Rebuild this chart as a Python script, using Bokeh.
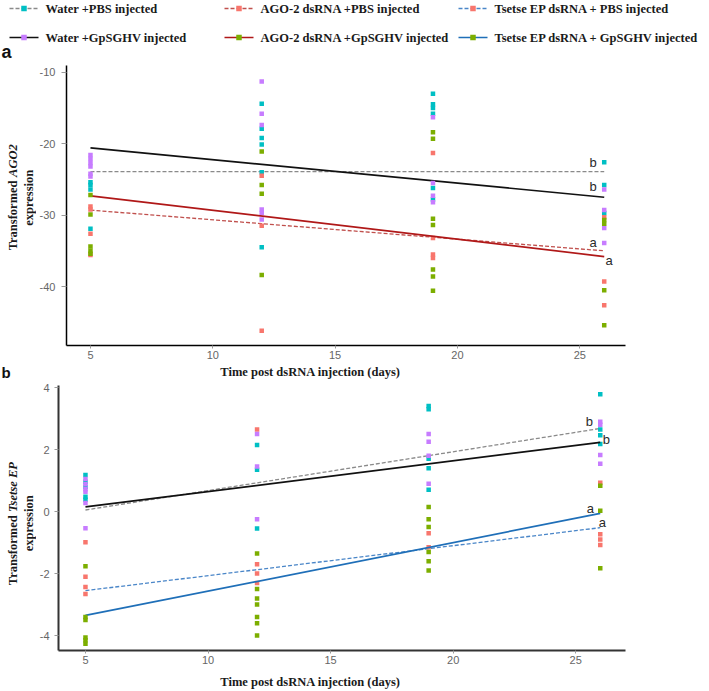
import math
from bokeh.plotting import figure
from bokeh.models import Range1d, Label, FixedTicker
from bokeh.layouts import row
from bokeh.embed import file_html
from bokeh.resources import INLINE
from bokeh.core.properties import value

# ---------------- data ----------------
x_ticks = [5, 10, 15, 20, 25]
x_tick_labels = ["5", "10", "15", "20", "25"]
line_days = [5, 26]

# Panel a : transformed AGO2 expression (points by day)
a_water_pbs = {5: [-25.4, -25.8, -26.4, -31.9],
               12: [-14.4, -17.9, -19.2, -20.1, -24.0, -34.5],
               19: [-13.0, -14.5, -15.0, -15.8, -26.2, -27.8],
               26: [-22.6, -25.8, -29.7]}
a_water_gp = {5: [-21.6, -22.1, -22.7, -23.2, -24.2, -24.6],
              12: [-11.3, -15.8, -17.4, -29.2, -29.7, -30.6],
              19: [-16.3, -25.5, -27.3, -28.2],
              26: [-26.4, -29.3, -31.8, -33.9]}
a_ago_pbs = {5: [-28.8, -29.2, -32.6, -35.6],
             12: [-24.5, -31.5, -46.2],
             19: [-21.3, -33.2, -35.5, -36.0],
             26: [-30.3, -39.3, -42.6]}
a_ago_gp = {5: [-27.2, -29.9, -34.4, -35.0, -35.4],
            12: [-21.1, -25.8, -27.0, -38.4],
            19: [-18.4, -19.3, -30.5, -31.4, -37.6, -38.6, -40.6],
            26: [-30.7, -31.2, -40.5, -45.4]}
a_fit_water_pbs = [-23.9, -23.9]
a_fit_water_gp = [-20.6, -27.5]
a_fit_ago_pbs = [-29.3, -35.0]
a_fit_ago_gp = [-27.3, -35.8]
a_y_ticks = [-40, -30, -20, -10]
a_y_tick_labels = ["-40", "-30", "-20", "-10"]

# Panel b : transformed Tsetse EP expression
b_water_pbs = {5: [1.18, 0.96, 0.80, 0.48, 0.38],
               12: [2.15, 1.35, -0.55],
               19: [3.40, 3.30, 1.70, 1.40, 0.70],
               26: [3.78, 2.65, 2.46, 2.18]}
b_water_gp = {5: [1.05, 0.88, 0.72, 0.64, 0.28, -0.54],
              12: [2.50, 1.45, -0.25],
              19: [2.50, 2.25, 1.80, 0.90],
              26: [2.90, 2.80, 1.82, 1.54]}
b_tse_pbs = {5: [-0.99, -2.10, -2.43, -2.66],
             12: [2.65, -1.70, -2.00, -2.30],
             19: [-0.70, -1.15],
             26: [0.93, -0.73, -0.90, -1.08]}
b_tse_gp = {5: [-1.76, -3.40, -3.50, -4.06, -4.15, -4.26],
            12: [-1.35, -2.50, -2.80, -3.00, -3.40, -3.60, -4.00],
            19: [0.15, -0.25, -0.50, -1.30, -1.60, -1.90],
            26: [0.83, 0.03, -1.83]}
b_fit_water_pbs = [0.05, 2.68]
b_fit_water_gp = [0.15, 2.23]
b_fit_tse_pbs = [-2.55, -0.52]
b_fit_tse_gp = [-3.35, -0.06]
b_y_ticks = [-4, -2, 0, 2, 4]
b_y_tick_labels = ["-4", "-2", "0", "2", "4"]

legend_labels = ["Water +PBS injected", "AGO-2 dsRNA +PBS injected", "Tsetse EP dsRNA + PBS injected",
                 "Water +GpSGHV injected", "AGO-2 dsRNA +GpSGHV injected", "Tsetse EP dsRNA + GpSGHV injected"]
x_title = "Time post dsRNA injection (days)"

# ---------------- styles ----------------
CYAN, PURPLE, SALMON, GREEN = "#00BFC4", "#C77CFF", "#F8766D", "#7CAE00"
GRAY_L, BLACK_L, RED_D, RED_S, BLUE_D, BLUE_S = "#8a8a8a", "#111111", "#c0504d", "#b01818", "#4a86c8", "#1f6fb8"
SERIF = "Liberation Serif"
SANS = "Liberation Sans"
TICKF = "Liberation Sans"
TXT = "#1a1a1a"
W = 709
YLAB_W = 36
PANEL_W = W - YLAB_W
FRAME_RIGHT = 625          # page x of frame right edge


def flat(d):
    xs, ys = [], []
    for day, vals in d.items():
        xs += [day] * len(vals)
        ys += vals
    return xs, ys


def blank(width, height, yr=None, b_top=0, b_bottom=0):
    """Figure without axes whose frame is used as a pixel canvas."""
    p = figure(width=width, height=height, x_range=Range1d(0, width),
               y_range=yr if yr is not None else Range1d(height, 0),
               min_border=0, min_border_top=b_top, min_border_bottom=b_bottom,
               toolbar_location=None, output_backend="svg",
               x_axis_location=None, y_axis_location=None)
    p.grid.visible = False
    p.outline_line_color = None
    p.title.visible = False
    return p


# ---------------- header: legend + panel letter a ----------------
HEAD_H = 64
head = blank(W, HEAD_H)
leg_cols = [9, 224, 458]
leg_rows = [8, 37]
leg_line_colors = [GRAY_L, RED_D, BLUE_D, BLACK_L, RED_S, BLUE_S]
leg_marker_colors = [CYAN, SALMON, SALMON, PURPLE, GREEN, GREEN]
leg_dash = ["4 2", "4 2", "4 2", "solid", "solid", "solid"]
for i, lab in enumerate(legend_labels):
    cx = leg_cols[i % 3]
    cy = leg_rows[i // 3]
    head.segment(x0=[cx], y0=[cy], x1=[cx + 29], y1=[cy], line_color=leg_line_colors[i],
                 line_width=1.7 if i >= 3 else 1.3, line_dash=leg_dash[i])
    head.scatter(x=[cx + 14.5], y=[cy], marker="square", size=5.5,
                 fill_color=leg_marker_colors[i], line_color=None)
    head.text(x=[cx + 36], y=[cy], text=[lab], text_font=value(SERIF), text_font_style="bold",
              text_font_size="12.5px", text_baseline="middle", text_align="left", text_color=TXT)
head.text(x=[1], y=[51], text=["a"], text_font=value(SANS), text_font_style="bold",
          text_font_size="18px", text_baseline="middle", text_align="left", text_color="#111111")


# ---------------- panel builder ----------------
def make_panel(height, xr, yr, b_left, b_top, b_bottom, yticks, ytlabels, axis_color, axis_w,
               ytick_out, ystandoff):
    p = figure(width=PANEL_W, height=height, x_range=Range1d(*xr), y_range=Range1d(*yr),
               toolbar_location=None, output_backend="svg",
               min_border_left=b_left, min_border_right=W - FRAME_RIGHT,
               min_border_top=b_top, min_border_bottom=b_bottom)
    p.title.visible = False
    p.grid.visible = False
    p.outline_line_color = None
    p.xaxis.ticker = FixedTicker(ticks=x_ticks)
    p.xaxis.major_label_overrides = dict(zip(x_ticks, x_tick_labels))
    p.yaxis.ticker = FixedTicker(ticks=yticks)
    p.yaxis.major_label_overrides = dict(zip(yticks, ytlabels))
    for ax in (p.xaxis, p.yaxis):
        ax.axis_line_color = axis_color
        ax.axis_line_width = axis_w
        ax.major_tick_line_color = "#9a9a9a"
        ax.major_tick_in = 0
        ax.minor_tick_line_color = None
        ax.major_label_text_font = TICKF
        ax.major_label_text_font_size = "11px"
        ax.major_label_text_color = "#666666"
    p.yaxis.major_tick_out = ytick_out
    p.yaxis.major_label_standoff = ystandoff
    p.xaxis.major_tick_out = 3
    p.xaxis.major_label_standoff = 2
    return p


def add_group(p, pts, fit, line_color, dash, lw, pt_color):
    xs, ys = flat(pts)
    p.line(x=line_days, y=fit, line_color=line_color, line_dash=dash, line_width=lw)
    p.scatter(x=xs, y=ys, marker="square", size=4.5, fill_color=pt_color, line_color=None)


def letter(p, x, y, txt, dx, dy):
    p.add_layout(Label(x=x, y=y, text=txt, x_offset=dx, y_offset=dy, text_font=SANS,
                       text_font_size="13px", text_color="#2a2a2a", text_align="center",
                       text_baseline="middle"))


def ylabel_fig(height, yr, b_top, b_bottom, y_plain, y_ital, y_expr, gene):
    q = blank(YLAB_W, height, yr=Range1d(*yr), b_top=b_top, b_bottom=b_bottom)
    common = dict(angle=math.pi / 2, text_font=value(SERIF), text_font_size="12.5px",
                  text_baseline="middle", text_color=TXT)
    q.text(x=[12.5], y=[y_plain], text=["Transformed"], text_align="right",
           text_font_style="bold", **common)
    q.text(x=[12.5], y=[y_ital], text=[gene], text_align="left",
           text_font_style="bold italic", **common)
    q.text(x=[28.5], y=[y_expr], text=["expression"], text_align="center",
           text_font_style="bold", **common)
    return q


# ---------------- panel a ----------------
ROWA_H = 299
AX = (4.02, 26.87)
AY = (-48.25, -9.06)
pa = make_panel(ROWA_H, AX, AY, 63 - YLAB_W, 1, 18, a_y_ticks, a_y_tick_labels, "#000000", 1.5, 5, 6)
add_group(pa, a_water_pbs, a_fit_water_pbs, GRAY_L, "4 2", 1.3, CYAN)
add_group(pa, a_ago_pbs, a_fit_ago_pbs, RED_D, "4 2", 1.3, SALMON)
add_group(pa, a_water_gp, a_fit_water_gp, BLACK_L, "solid", 1.7, PURPLE)
add_group(pa, a_ago_gp, a_fit_ago_gp, RED_S, "solid", 1.7, GREEN)
letter(pa, 26, a_fit_water_pbs[1], "b", -11, 9)
letter(pa, 26, a_fit_water_gp[1], "b", -11, 11)
letter(pa, 26, a_fit_ago_pbs[1], "a", -11, 8)
letter(pa, 26, a_fit_ago_gp[1], "a", 5, -4)
ya = ylabel_fig(ROWA_H, AY, 1, 18, -25.15, -24.66, -27.57, "AGO2")

# strip between panels: x title of panel a + panel letter b
STRIP_A_H = 17
strip_a = blank(W, STRIP_A_H)
strip_a.text(x=[310], y=[8], text=[x_title], text_font=value(SERIF), text_font_style="bold",
             text_font_size="12.5px", text_baseline="middle", text_align="center", text_color=TXT)
strip_a.text(x=[1], y=[8.5], text=["b"], text_font=value(SANS), text_font_style="bold",
             text_font_size="15px", text_baseline="middle", text_align="left", text_color="#111111")

# ---------------- panel b ----------------
ROWB_H = 288
BX = (3.90, 27.03)
BY = (-4.48, 4.065)
pb = make_panel(ROWB_H, BX, BY, 56 - YLAB_W, 5, 18, b_y_ticks, b_y_tick_labels, "#333333", 2, 4, 5)
add_group(pb, b_water_pbs, b_fit_water_pbs, GRAY_L, "4 2", 1.3, CYAN)
add_group(pb, b_tse_pbs, b_fit_tse_pbs, BLUE_D, "4 2", 1.3, SALMON)
add_group(pb, b_water_gp, b_fit_water_gp, BLACK_L, "solid", 1.7, PURPLE)
add_group(pb, b_tse_gp, b_fit_tse_gp, BLUE_S, "solid", 1.7, GREEN)
letter(pb, 26, b_fit_water_pbs[1], "b", -11, 7)
letter(pb, 26, b_fit_water_gp[1], "b", 6, 3)
letter(pb, 26, b_fit_tse_gp[1], "a", -10, 5)
letter(pb, 26, b_fit_tse_pbs[1], "a", 2, 5)
yb = ylabel_fig(ROWB_H, BY, 5, 18, -0.12, -0.01, -0.38, "Tsetse EP")

STRIP_B_H = 691 - HEAD_H - ROWA_H - STRIP_A_H - ROWB_H
strip_b = blank(W, STRIP_B_H)
strip_b.text(x=[310], y=[13], text=[x_title], text_font=value(SERIF), text_font_style="bold",
             text_font_size="12.5px", text_baseline="middle", text_align="center", text_color=TXT)

roots = [head, row(ya, pa, spacing=0), strip_a, row(yb, pb, spacing=0), strip_b]
open("out.html", "w").write(file_html(roots, INLINE))
